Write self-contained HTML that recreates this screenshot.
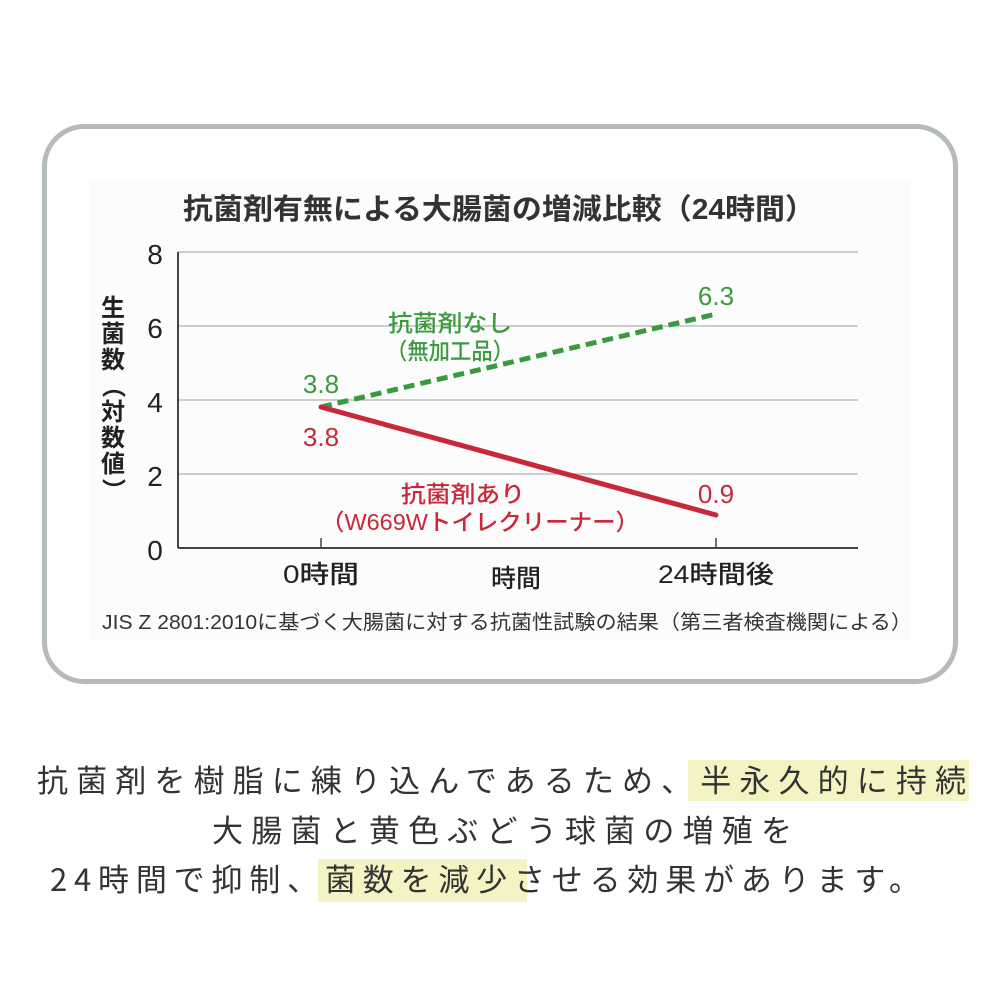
<!DOCTYPE html>
<html><head><meta charset="utf-8"><style>
html,body{margin:0;padding:0;background:#fff;width:1000px;height:1000px;overflow:hidden}
.f{font-family:"Liberation Sans","Noto Sans CJK JP",sans-serif}
</style></head><body>
<svg width="1000" height="1000" viewBox="0 0 1000 1000" xmlns="http://www.w3.org/2000/svg" class="f">
<rect x="44.5" y="126.5" width="911" height="555" rx="40" fill="#fff" stroke="#b5babc" stroke-width="5"/>
<rect x="90" y="180" width="820" height="460" fill="#fdfcfc"/>
<text x="183" y="219" font-size="29" font-weight="bold" fill="#333" textLength="632" lengthAdjust="spacingAndGlyphs">抗菌剤有無による大腸菌の増減比較（24時間）</text>
<g stroke="#bdbdbd" stroke-width="1.5">
<line x1="178" y1="252" x2="858" y2="252"/>
<line x1="178" y1="326" x2="858" y2="326"/>
<line x1="178" y1="400" x2="858" y2="400"/>
<line x1="178" y1="474" x2="858" y2="474"/>
</g>
<line x1="178" y1="548" x2="858" y2="548" stroke="#444" stroke-width="2"/>
<line x1="178" y1="252" x2="178" y2="548" stroke="#444" stroke-width="2"/>
<line x1="321" y1="538" x2="321" y2="548" stroke="#444" stroke-width="1.5"/>
<line x1="716" y1="538" x2="716" y2="548" stroke="#444" stroke-width="1.5"/>
<g font-size="28" fill="#222" text-anchor="middle" font-weight="500">
<text x="155" y="264" transform="scale(1,1)">8</text><text x="155" y="338">6</text><text x="155" y="412">4</text><text x="155" y="486">2</text><text x="155" y="560">0</text>
</g>
<g font-size="24" fill="#222" text-anchor="middle" font-weight="bold">
<text x="113" y="316">生</text><text x="113" y="342">菌</text><text x="113" y="368">数</text>
<text x="113" y="394" transform="rotate(90 113 386)">（</text>
<text x="113" y="420">対</text><text x="113" y="446">数</text><text x="113" y="472">値</text>
<text x="113" y="498" transform="rotate(90 113 490)">）</text>
</g>
<g font-size="25" fill="#222" text-anchor="middle" font-weight="500">
<text x="321" y="583" textLength="76" lengthAdjust="spacingAndGlyphs">0時間</text><text x="516" y="587">時間</text><text x="716" y="583" textLength="116" lengthAdjust="spacingAndGlyphs">24時間後</text>
</g>
<text x="102" y="629" font-size="20" fill="#333" textLength="810" lengthAdjust="spacingAndGlyphs">JIS Z 2801:2010に基づく大腸菌に対する抗菌性試験の結果（第三者検査機関による）</text>
<line x1="321" y1="407" x2="716" y2="314" stroke="#3a9a3e" stroke-width="5" stroke-dasharray="11,6"/>
<line x1="321" y1="407" x2="716" y2="515" stroke="#c8283a" stroke-width="5" stroke-linecap="round"/>
<g fill="#3a9a3e" font-size="26" text-anchor="middle" font-weight="500">
<text x="321" y="393">3.8</text><text x="716" y="305">6.3</text>
<text x="450" y="331" font-size="23" textLength="124" lengthAdjust="spacingAndGlyphs">抗菌剤なし</text><text x="450" y="359" font-size="23" textLength="128" lengthAdjust="spacingAndGlyphs">（無加工品）</text>
</g>
<g fill="#c8283a" font-size="26" text-anchor="middle" font-weight="500">
<text x="321" y="446">3.8</text><text x="716" y="503">0.9</text>
<text x="463" y="502" font-size="23" textLength="124" lengthAdjust="spacingAndGlyphs">抗菌剤あり</text><text x="480" y="530" font-size="23" textLength="318" lengthAdjust="spacingAndGlyphs">（W669Wトイレクリーナー）</text>
</g>
<rect x="688" y="760" width="281" height="41" fill="#f3f3c4"/>
<rect x="318" y="859" width="209" height="43" fill="#f3f3c4"/>
<g font-size="31" fill="#333" font-family="Noto Sans CJK JP,sans-serif">
<text x="37" y="792" textLength="929" lengthAdjust="spacing">抗菌剤を樹脂に練り込んであるため、半永久的に持続</text>
<text x="212" y="842" textLength="580" lengthAdjust="spacing">大腸菌と黄色ぶどう球菌の増殖を</text>
<text x="50" y="891" textLength="870" lengthAdjust="spacing">24時間で抑制、菌数を減少させる効果があります。</text>
</g>
</svg>
</body></html>
